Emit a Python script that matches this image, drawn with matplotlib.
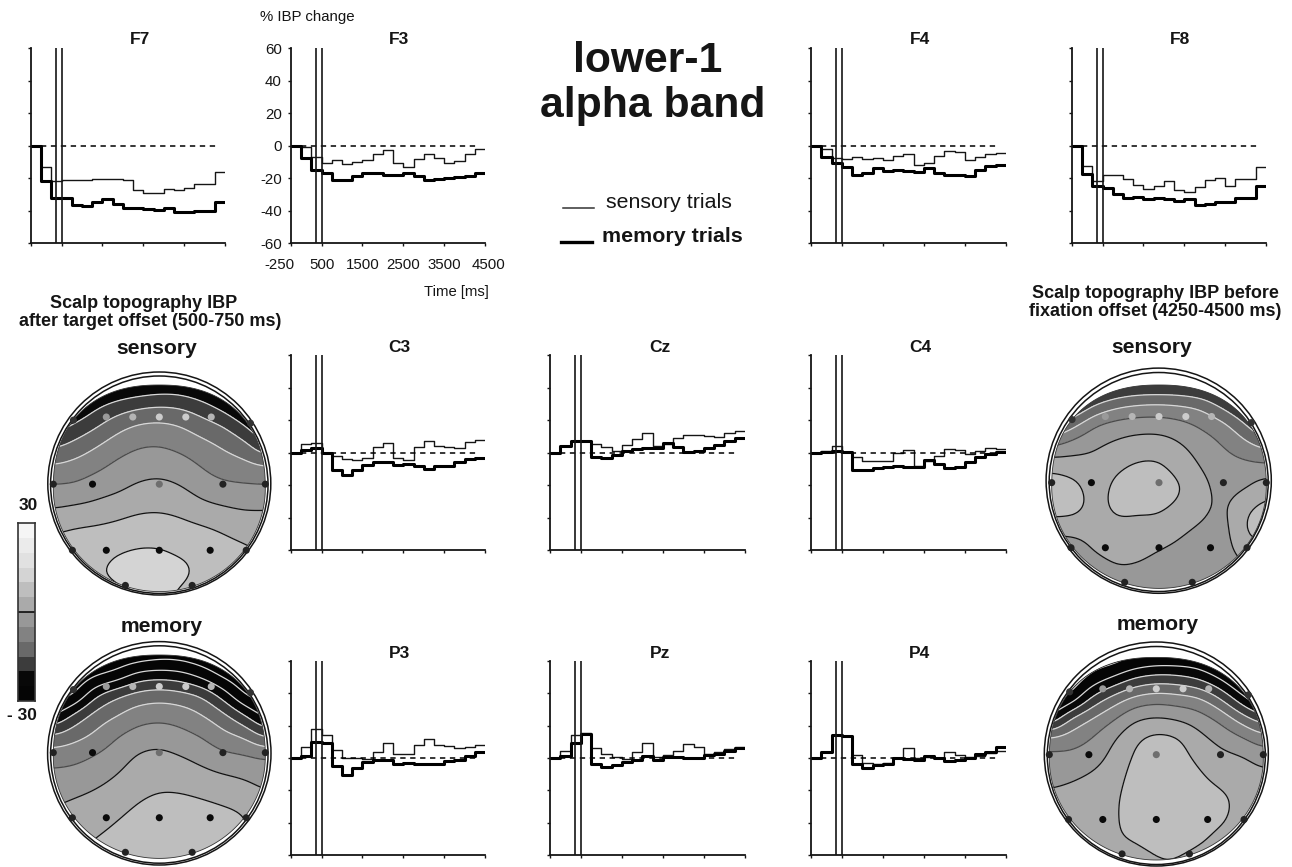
import numpy as np
import matplotlib
matplotlib.use("Agg")
import matplotlib.pyplot as plt
from matplotlib.colors import ListedColormap, BoundaryNorm
from matplotlib.patches import Ellipse, Polygon
from matplotlib.transforms import ScaledTranslation

plt.rcParams['font.family'] = ['Liberation Sans', 'DejaVu Sans']
plt.rcParams['axes.unicode_minus'] = False

W, H = 1292, 867
INK = '#151515'

# time axis
BIN_EDGES = np.arange(-250, 4501, 250)
X_TICKS = [-250, 500, 1500, 2500, 3500, 4500]
Y_TICKS = [-60, -40, -20, 0, 20, 40, 60]
MARK_TIMES = [350, 500]

# % IBP change per 250 ms bin
F7_S = [0, -13, -22, -21.5, -21.5, -21.5, -20.5, -20.5, -20.5, -21.5, -27.5, -29.5, -29, -26.5, -27.5, -26, -23.5, -23.5, -16]
F7_M = [0, -22, -32, -32.5, -36.5, -37, -35, -33, -36, -38.5, -38.5, -39, -39.5, -38.5, -41, -41, -40, -40, -34.5]
F3_S = [0, -1, -7, -10.5, -9, -11.5, -10, -9, -5, -2.5, -11, -13, -8, -5.5, -7.5, -10.5, -9.5, -5, -2]
F3_M = [0, -7.5, -15, -17, -21, -21, -19, -17, -17, -18, -18, -17, -19, -21.5, -20.5, -20, -19.5, -19, -17]
F4_S = [0, -2, -7.5, -8.5, -7, -8, -7.5, -9, -6.5, -5, -12, -11, -6.5, -3.5, -4, -9, -7, -5, -4.5]
F4_M = [0, -7, -11, -13, -18, -17, -14, -15.5, -15, -15.5, -16, -14, -17, -18, -18, -19, -15, -12.5, -12]
F8_S = [0, -12.5, -22, -18, -18, -20.5, -24, -26.5, -25, -22, -27.5, -28.5, -25.5, -21, -20, -25, -20.5, -20.5, -13]
F8_M = [0, -17.5, -25, -26, -30, -32, -31.5, -33, -32, -33, -34, -33, -36.5, -36, -34.5, -34.5, -32.5, -32.5, -25]
C3_S = [0, 5, 6, 0, -2, -4, -4.5, -3.5, 3.5, 6, -3.5, -4.5, 3.5, 7, 4, 3.5, 2.5, 6.5, 8]
C3_M = [0, 1.5, 3, -0.5, -11, -14, -11, -7.5, -6, -6, -7.5, -7, -8.5, -10, -8.5, -8, -6, -4, -3.5]
CZ_S = [0, 4, 7, 7, 5, 3.5, 1, 4.5, 8.5, 12, 4, 5, 9, 11, 10.5, 10, 9.5, 12, 13]
CZ_M = [0, 4, 7, 7, -3, -3.5, -1.5, 1, 2, 2.5, 3, 6, 3.5, 0.5, 1, 3, 4.5, 7, 9]
C4_S = [0, 1, 4, 0.5, -3, -5, -5.5, -5, 0, 1.5, -8, -5, -2, 2, 1.5, -1, 1, 2.5, 2]
C4_M = [0, 0.5, 1, 0.5, -10.5, -11, -9.5, -9, -8, -9, -9, -4.5, -7, -9.5, -9, -6, -2.5, -1, 0.5]
P3_S = [0, 7, 18, 14.5, 5, 0, 0, -0.5, 3.5, 9.5, 2.5, 2.5, 8, 12, 8, 7.5, 6, 7, 8]
P3_M = [0, 1, 10, 9, -5, -10.5, -6, -2.5, -1, -1, -3.5, -3, -3.5, -3.5, -4, -2, -1, 1, 3.5]
PZ_S = [0, 4.5, 14, 15.5, 6, 2.5, 0.5, -0.5, 4, 9, 0.5, 2, 4.5, 8.5, 7, 2.5, 4, 5.5, 7]
PZ_M = [0, 1, 9, 15, -3.5, -5.5, -4.5, -2.5, -1, 1.5, -1.5, 0.5, 0.5, 0, 0, 2, 2.5, 4.5, 6]
P4_S = [0, 4, 14.5, 13.5, 2, -3, -4, -3, 0, 6, 0, 0.5, 0, 4, 2, 0.5, 1.5, 3, 4.5]
P4_M = [0, 4, 14.5, 13.5, -4, -6, -4.5, -4, 0, -0.5, -1.5, 1.5, 0, -2, -1, 0, 2.5, 3.5, 7]

# scale of the maps, grey of each 5 % band from -30 up to 30
SCALE_LEVELS = np.arange(-30, 31, 5)
SCALE_GREYS = [5, 8, 60, 105, 130, 152, 170, 190, 212, 225, 235, 245]
LINE_LEVELS = np.arange(-30, 30, 5)

# scalp maps, 11 x 11 values from the front (top row) to the back of the head
EARLY_SENSORY = [
    [-30, -30, -28, -26, -25, -24, -24, -26, -29, -30, -30],
    [-28, -26, -21, -18, -16, -15, -15.6, -18, -22, -27, -29],
    [-23, -19, -15.5, -11.5, -9, -8.5, -9.7, -12.5, -14.5, -19.5, -26],
    [-15.5, -13, -10, -7, -5, -4.7, -6, -8, -10.2, -12.5, -19],
    [-9, -8, -6, -3.5, -2, -1.5, -2.5, -5, -7.5, -8, -9],
    [-4, -4, -2, -1, 1, 1.7, 0.5, -2, -3.5, -4, -4],
    [0, 1, 1.5, 3, 4.3, 4.6, 3.8, 1.6, 0.6, -0.2, 0],
    [4.5, 5.5, 6, 6.5, 7.5, 7.5, 6.8, 6, 4.6, 3, 2.5],
    [7, 7.5, 8, 9.7, 10.5, 10.5, 9.2, 8.5, 7, 6, 4.5],
    [8, 8.5, 9.5, 11.5, 12, 12, 11.5, 9, 8, 7, 6],
    [8, 8, 8, 9, 10.5, 10.7, 9.5, 8, 7, 7, 6],
]
EARLY_MEMORY = [
    [-35, -35, -35, -34, -34, -33, -33, -34, -35, -35, -35],
    [-35, -34, -31, -29, -23, -22, -23, -27, -32, -34, -35],
    [-33, -31, -20, -15, -12.5, -11.5, -12.5, -14.5, -21.5, -31, -33],
    [-26, -18, -12.5, -10, -7, -6.3, -7, -9.5, -13, -19, -27],
    [-14, -11.5, -9, -5, -2.6, -1.7, -3.3, -5, -8.5, -10, -16],
    [-7, -6.5, -4.5, -2.3, 0.8, 1.4, 0.3, -1.5, -3.8, -4.3, -5],
    [-3.5, -3, -1.5, 0.3, 2.7, 3.6, 3, 1.8, 0.7, -0.3, -2],
    [-1, 0, 1, 2.4, 4.6, 5.6, 5.7, 5, 4, 3, 1],
    [1, 2, 3, 4.7, 6.5, 7, 7, 7, 6.5, 5.5, 2],
    [2, 3.5, 5, 6.5, 8, 8.5, 8, 8, 7.5, 6, 3],
    [2, 4, 7, 8, 9, 9, 9, 9, 8, 7, 3],
]
LATE_SENSORY = [
    [-25, -25, -25, -22, -20.5, -20.5, -20.5, -22, -25, -27, -28],
    [-22, -22, -14.8, -11, -9.5, -9, -9.7, -11, -16.5, -22, -26],
    [-17, -11, -4.4, -2.5, -1.7, -1.8, -3, -5.5, -8, -14, -22],
    [-5, -2, -0.4, 1.2, 2.5, 2.9, 0.7, -2.3, -4.9, -8, -11],
    [4, 2.5, 1.5, 4.2, 6, 6, 3, -0.4, -3, -3.5, -4],
    [8, 7, 2.5, 6.5, 7.5, 8, 5.7, 1.4, -2, -1, 3.5],
    [8, 7.5, 3, 6.5, 6, 6, 4, 1.5, -1.5, 4.5, 6.5],
    [2, 2, 2, 3.8, 3.5, 3.5, 1, -0.7, -2.5, 6, 7],
    [-3, -2.5, 0.7, 1.8, 1.5, 0.1, -1, -2.5, -3, 4, 4],
    [-4, -3, -2, -0.2, -0.5, -1.5, -2.5, -3.5, -3.5, -1, -1],
    [-4, -4, -3, -2, -2, -3, -3, -4, -4, -3, -3],
]
LATE_MEMORY = [
    [-35, -35, -33, -33, -31, -30, -30, -30, -34, -35, -35],
    [-35, -34, -29, -25, -20, -18, -18.5, -21, -26, -33, -35],
    [-33, -30, -19, -13, -8.5, -7, -8, -9, -15, -24, -32],
    [-26, -14, -9.6, -5.5, -0.4, 0.6, -0.5, -2.5, -6, -12.5, -18],
    [-8.5, -7.5, -4.8, -0.4, 4.5, 7, 6, 1.5, -1.4, -4, -8],
    [-3, -3.4, -2, 1.5, 6, 8, 7, 4, 1.4, 1, -1.5],
    [-1, -0.3, 1, 3, 7, 9, 8.5, 6, 3.5, 2.5, 1.5],
    [1, 1.5, 2.5, 4, 7.5, 9.5, 9, 8, 6.5, 3.5, 2],
    [2, 2.5, 3, 4.3, 7, 9, 8.5, 7.5, 5.7, 3.5, 2],
    [2, 3, 3.5, 4.5, 5.2, 7, 7.5, 5.7, 3.5, 3, 2],
    [2, 3, 4, 4, 3, 4.5, 4.5, 3, 3, 2, 2],
]

# electrodes in map coordinates
ELEC_X = [-0.81, -0.50, -0.25, 0, 0.25, 0.49, 0.86, -1.0, -0.63, 0, 0.60, 1.0, -0.82, -0.50, 0, 0.48, 0.82, -0.32, 0.31]
ELEC_Y = [0.66, 0.69, 0.69, 0.69, 0.69, 0.69, 0.63, 0.04, 0.04, 0.04, 0.04, 0.04, -0.60, -0.60, -0.60, -0.60, -0.60, -0.94, -0.94]
ELEC_GREY = ['#333333', '#9a9a9a', '#b5b5b5', '#cccccc', '#cccccc', '#b5b5b5', '#333333', '#222222', '#0a0a0a', '#6e6e6e',
             '#222222', '#222222', '#222222', '#0a0a0a', '#0a0a0a', '#0a0a0a', '#222222', '#222222', '#222222']


def px_axes(fig, left, top, right, bottom):
    return fig.add_axes([left / W, 1 - bottom / H, (right - left) / W, (bottom - top) / H])


def px_text(fig, x, y, s, size, weight='normal', ha='center'):
    fig.text(x / W, 1 - y / H, s, fontsize=size, fontweight=weight, ha=ha, va='center', color=INK)


def draw_panel(fig, box, title, title_pos, sensory, memory, labelled=False):
    ax = px_axes(fig, *box)
    ax.step(BIN_EDGES, list(sensory) + [sensory[-1]], where='post', color=INK, lw=1.0)
    ax.step(BIN_EDGES, list(memory) + [memory[-1]], where='post', color='black', lw=2.2)
    ax.plot([-250, 4300], [0, 0], color='black', lw=1.1, dashes=(3.5, 3))
    for t in MARK_TIMES:
        ax.axvline(t, color=INK, lw=1.2)
    ax.set_xlim(-250, 4500)
    ax.set_ylim(-60, 60)
    ax.set_xticks(X_TICKS)
    ax.set_yticks(Y_TICKS)
    ax.tick_params(length=2, width=1, color=INK, labelsize=10.8, labelcolor=INK)
    ax.tick_params(axis='x', pad=9)
    ax.tick_params(axis='y', pad=4.5)
    if not labelled:
        ax.set_xticklabels([])
        ax.set_yticklabels([])
    else:
        labels = ax.get_xticklabels()
        labels[0].set_transform(labels[0].get_transform() + ScaledTranslation(-12 / 100, 0, fig.dpi_scale_trans))
        labels[-1].set_transform(labels[-1].get_transform() + ScaledTranslation(4 / 100, 0, fig.dpi_scale_trans))
    ax.spines['top'].set_visible(False)
    ax.spines['right'].set_visible(False)
    ax.spines['left'].set_linewidth(1.3)
    ax.spines['bottom'].set_linewidth(1.3)
    ax.spines['left'].set_color(INK)
    ax.spines['bottom'].set_color(INK)
    px_text(fig, title_pos[0], title_pos[1], title, 12.5, 'bold')


def smooth_grid(values, factor=8):
    # resample the coarse table and blur it a bit so the contours are not angular
    values = np.array(values, dtype=float)
    n = values.shape[0]
    old = np.linspace(-1, 1, n)
    new = np.linspace(-1, 1, (n - 1) * factor + 1)
    rows = np.array([np.interp(new, old, r) for r in values])
    fine = np.array([np.interp(new, old, c) for c in rows.T]).T
    kernel = np.ones(factor - 1) / (factor - 1)
    pad = factor
    for _ in range(2):
        fine = np.pad(fine, pad, mode='edge')
        fine = np.apply_along_axis(lambda v: np.convolve(v, kernel, mode='same'), 0, fine)
        fine = np.apply_along_axis(lambda v: np.convolve(v, kernel, mode='same'), 1, fine)
        fine = fine[pad:-pad, pad:-pad]
    return new, fine


def scale_colors():
    return ListedColormap([(g / 255, g / 255, g / 255) for g in SCALE_GREYS])


def map_outline():
    # the map edge is squarer on the front half of the head, round at the back
    angle = np.linspace(0, 2 * np.pi, 241)
    c, s = np.cos(angle), np.sin(angle)
    p = np.where(s > 0, 2.3, 2.0)
    r = (np.abs(c) ** p + np.abs(s) ** p) ** (-1 / p)
    return np.column_stack([r * c, r * s])


def draw_map(fig, values, centre, half, ring_c, ring_r, inner_c, inner_r):
    mx, my = centre
    hw, hh = half
    # the axes is larger than the map so the rings fit
    fx = (ring_r + 4) / hw
    fy = (ring_r + 12) / hh
    ax = px_axes(fig, mx - hw * fx, my - hh * fy, mx + hw * fx, my + hh * fy)
    ax.set_xlim(-fx, fx)
    ax.set_ylim(-fy, fy)
    ax.axis('off')

    g, fine = smooth_grid(values)
    x, y = np.meshgrid(g, g[::-1])
    levels = np.arange(-45, 35, 5)
    greys = [3, 3, 3] + SCALE_GREYS
    cmap = ListedColormap([(v / 255, v / 255, v / 255) for v in greys])
    norm = BoundaryNorm(levels, cmap.N)
    clip = Polygon(map_outline(), closed=True, facecolor='none', edgecolor='#333333', lw=0.6, zorder=4)
    ax.add_patch(clip)
    filled = ax.contourf(x, y, fine, levels=levels, cmap=cmap, norm=norm)
    filled.set_clip_path(clip)
    colors = ['#d8d8d8' if v < -5 else ('#4a4a4a' if v < 0 else '#111111') for v in LINE_LEVELS]
    lines = ax.contour(x, y, fine, levels=LINE_LEVELS, colors=colors, linewidths=0.9)
    lines.set_clip_path(clip)
    ax.scatter(ELEC_X, ELEC_Y, s=26, c=ELEC_GREY, linewidths=0, zorder=5, clip_on=False)

    # head outline, two rings
    ax.add_patch(Ellipse(((ring_c[0] - mx) / hw, (my - ring_c[1]) / hh), 2 * ring_r / hw, 2 * ring_r / hh,
                         facecolor='none', edgecolor=INK, lw=1.1, clip_on=False))
    ax.add_patch(Ellipse(((inner_c[0] - mx) / hw, (my - inner_c[1]) / hh), 2 * inner_r / hw, 2 * inner_r / hh,
                         facecolor='none', edgecolor=INK, lw=1.1, clip_on=False))


def main():
    fig = plt.figure(figsize=(W / 100, H / 100), dpi=100, facecolor='white')

    top_row = (48, 243)
    mid_row = (355, 550)
    low_row = (661, 855)
    draw_panel(fig, (31, top_row[0], 225, top_row[1]), 'F7', (140, 40), F7_S, F7_M)
    draw_panel(fig, (291, top_row[0], 485, top_row[1]), 'F3', (399, 40), F3_S, F3_M, labelled=True)
    draw_panel(fig, (811, top_row[0], 1006, top_row[1]), 'F4', (920, 40), F4_S, F4_M)
    draw_panel(fig, (1072, top_row[0], 1266, top_row[1]), 'F8', (1180, 40), F8_S, F8_M)
    draw_panel(fig, (291, mid_row[0], 485, mid_row[1]), 'C3', (399, 348), C3_S, C3_M)
    draw_panel(fig, (550, mid_row[0], 745, mid_row[1]), 'Cz', (660, 348), CZ_S, CZ_M)
    draw_panel(fig, (811, mid_row[0], 1006, mid_row[1]), 'C4', (920, 348), C4_S, C4_M)
    draw_panel(fig, (291, low_row[0], 485, low_row[1]), 'P3', (399, 653), P3_S, P3_M)
    draw_panel(fig, (550, low_row[0], 745, low_row[1]), 'Pz', (660, 653), PZ_S, PZ_M)
    draw_panel(fig, (811, low_row[0], 1006, low_row[1]), 'P4', (920, 653), P4_S, P4_M)

    draw_map(fig, EARLY_SENSORY, (159.3, 488.3), (106, 103.3), (159.3, 483.5), 111.5, (159.3, 484.7), 108.7)
    draw_map(fig, EARLY_MEMORY, (159.3, 756.7), (106, 101.7), (159.3, 753.3), 111.7, (159.3, 754.5), 108.7)
    draw_map(fig, LATE_SENSORY, (1159, 486.7), (107.3, 101.7), (1158.7, 480.7), 112.6, (1158.7, 482), 109.5)
    draw_map(fig, LATE_MEMORY, (1156.3, 758.7), (107, 101.3), (1156.3, 754), 112, (1156.3, 755.5), 109)

    # colour scale
    cax = px_axes(fig, 18, 523, 35, 701)
    cax.pcolormesh([0, 1], SCALE_LEVELS, np.array(range(12)).reshape(-1, 1), cmap=scale_colors(), vmin=-0.5, vmax=11.5)
    cax.axhline(0, color='black', lw=1.1)
    cax.set_xticks([])
    cax.set_yticks([])
    for s in cax.spines.values():
        s.set_color('#333333')
        s.set_linewidth(1.2)
    px_text(fig, 28, 505, '30', 12.5, 'bold')
    px_text(fig, 22, 716, '- 30', 12.5, 'bold')

    # big title
    px_text(fig, 648, 61, 'lower-1', 30.7, 'bold')
    px_text(fig, 653, 106, 'alpha band', 30.7, 'bold')

    # legend
    legend = fig.add_axes([0, 0, 1, 1], facecolor='none')
    legend.set_xlim(0, W)
    legend.set_ylim(H, 0)
    legend.axis('off')
    legend.plot([563, 594], [208, 208], color='#333333', lw=1.1)
    legend.plot([561, 592], [242, 242], color='black', lw=2.4)
    px_text(fig, 606, 203, 'sensory trials', 15.4, ha='left')
    px_text(fig, 602, 237, 'memory trials', 15.4, 'bold', ha='left')

    px_text(fig, 307, 17, '% IBP change', 10.8)
    px_text(fig, 456, 292, 'Time [ms]', 10.7)

    px_text(fig, 144, 304, 'Scalp topography IBP', 13, 'bold')
    px_text(fig, 150, 321, 'after target offset (500-750 ms)', 13, 'bold')
    px_text(fig, 1155, 294, 'Scalp topography IBP before', 13, 'bold')
    px_text(fig, 1155, 312, 'fixation offset (4250-4500 ms)', 13, 'bold')
    px_text(fig, 157, 349, 'sensory', 15.2, 'bold')
    px_text(fig, 162, 626, 'memory', 15.2, 'bold')
    px_text(fig, 1152, 348, 'sensory', 15.2, 'bold')
    px_text(fig, 1158, 625, 'memory', 15.2, 'bold')

    fig.savefig('out.png', dpi=100, facecolor='white')


if __name__ == "__main__":
    main()
